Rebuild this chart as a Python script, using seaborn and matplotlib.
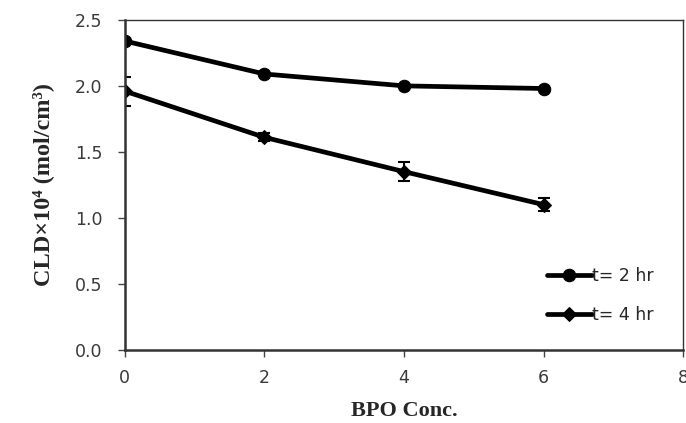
import pandas as pd
import numpy as np
import matplotlib
matplotlib.use('Agg')
import matplotlib.pyplot as plt
import seaborn as sns

bpo_conc = [0, 2, 4, 6]
cld_2hr = [2.34, 2.09, 2.00, 1.98]
cld_4hr = [1.96, 1.61, 1.35, 1.10]
err_4hr = [0.11, 0.03, 0.07, 0.05]
series_labels = ['t= 2 hr', 't= 4 hr']

sns.set_style('white')
plt.rcParams['font.family'] = ['DejaVu Sans']

df = pd.DataFrame({
    'BPO': bpo_conc * 2,
    'CLD': cld_2hr + cld_4hr,
    'series': [series_labels[0]] * 4 + [series_labels[1]] * 4,
})

fig = plt.figure(figsize=(6.86, 4.23), dpi=100)
ax = fig.add_axes([0.182, 0.173, 0.814, 0.78])

sns.lineplot(data=df, x='BPO', y='CLD', hue='series', style='series',
             palette=['black', 'black'], markers=['o', 'D'], dashes=False,
             linewidth=3.4, markersize=9, markeredgecolor='black', ax=ax)
# shrink the diamonds a bit
ax.lines[1].set_markersize(7.5)
ax.errorbar(bpo_conc, cld_4hr, yerr=err_4hr, fmt='none', ecolor='black',
            elinewidth=1.5, capsize=4, capthick=1.5)

ax.set_xlim(0, 8)
ax.set_ylim(0, 2.5)
ax.set_xticks([0, 2, 4, 6, 8])
ax.set_yticks(np.arange(0, 2.51, 0.5))
ax.set_yticklabels([f'{v:.1f}' for v in np.arange(0, 2.51, 0.5)])
ax.tick_params(axis='both', direction='out', length=5, width=1, colors='#444444',
               labelsize=12.5, labelcolor='#3a3a3a', bottom=True, left=True)
ax.tick_params(axis='x', pad=9)
ax.tick_params(axis='y', pad=11)
for s in ax.spines.values():
    s.set_color('#333333')
    s.set_linewidth(1)
ax.spines['left'].set_linewidth(1.8)
ax.spines['bottom'].set_linewidth(1.8)

ax.set_xlabel('BPO Conc.', family='Liberation Serif', fontweight='bold', fontsize=16, labelpad=10)
ax.set_ylabel('CLD\u00d710\u2074 (mol/cm\u00b3)', family='Liberation Serif', fontweight='bold',
              fontsize=17.5, labelpad=15)

handles, labels = ax.get_legend_handles_labels()
for h in handles:
    h.set_linewidth(3.4)
leg = ax.legend(handles, labels, loc='lower right', frameon=False, fontsize=12.5,
                handlelength=2.6, handletextpad=0.0, labelspacing=1.2,
                bbox_to_anchor=(0.975, 0.03))
leg.legend_handles[1].set_markersize(7)

fig.savefig('out.png', dpi=100)
